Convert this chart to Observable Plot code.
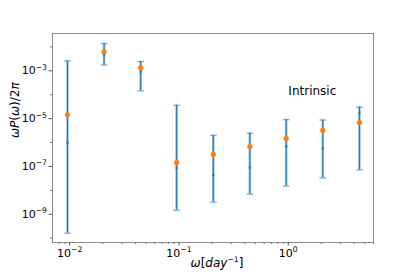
<!DOCTYPE html>
<html>
<head>
<meta charset="utf-8">
<script src="https://cdn.jsdelivr.net/npm/d3@7"></script>
<script src="https://cdn.jsdelivr.net/npm/@observablehq/plot@0.6"></script>
<style>
  html, body { margin: 0; padding: 0; background: #fff; }
  svg { font-family: "DejaVu Sans", sans-serif; }
</style>
</head>
<body>
<div id="chart"></div>
<script>
// frequency (1/day)
const omega = [0.00953, 0.0206, 0.0446, 0.0951, 0.206, 0.445, 0.957, 2.07, 4.48];
// power estimate (orange) and median (blue) with error range
const orangeVal = [1.45e-5, 6.3e-3, 1.35e-3, 1.45e-7, 3.2e-7, 6.8e-7, 1.48e-6, 3.2e-6, 6.9e-6];
const blueVal   = [9.8e-7, 4.8e-3, 9.1e-4, 8.7e-8, 4.4e-8, 8.9e-8, 6.8e-7, 5.6e-7, 1.7e-5];
const errLow    = [1.6e-10, 1.74e-3, 1.45e-4, 1.48e-9, 3.2e-9, 6.9e-9, 1.5e-8, 3.3e-8, 7.2e-8];
const errHigh   = [2.6e-3, 1.38e-2, 2.45e-3, 3.6e-5, 2.0e-6, 2.45e-6, 9.1e-6, 8.7e-6, 3.0e-5];

const xTicks = [0.01, 0.1, 1];
const xTickLabels = ["10⁻²", "10⁻¹", "10⁰"];
const xMinor = [0.008, 0.009, 0.02, 0.03, 0.04, 0.05, 0.06, 0.07, 0.08, 0.09,
                0.2, 0.3, 0.4, 0.5, 0.6, 0.7, 0.8, 0.9, 2, 3, 4, 5, 6];
const yTicks = [1e-9, 1e-7, 1e-5, 1e-3];
const yTickLabels = ["10⁻⁹", "10⁻⁷", "10⁻⁵", "10⁻³"];
const yMinor = [1e-10, 1e-8, 1e-6, 1e-4, 1e-2];

const annotation = [{x: 1.66, y: 1.45e-4, text: "Intrinsic"}];
const xLabel = "ω[day⁻¹]";
const yLabel = "ωP(ω)/2π";

const rows = omega.map((w, i) => ({
  x: w, orange: orangeVal[i], blue: blueVal[i], lo: errLow[i], hi: errHigh[i]
}));

const capSymbol = {
  draw(ctx, size) {
    const r = Math.sqrt(size / Math.PI);
    ctx.moveTo(-r, 0);
    ctx.lineTo(r, 0);
  }
};

const blue = "#1f77b4";
const orange = "#ff7f0e";

const chart = Plot.plot({
  width: 415,
  height: 277,
  marginLeft: 52,
  marginRight: 42,
  marginTop: 33,
  marginBottom: 35,
  style: {fontFamily: "DejaVu Sans, sans-serif", fontSize: "10px", color: "#000", background: "#fff"},
  x: {type: "log", domain: [Math.pow(10, -2.158), Math.pow(10, 0.78)]},
  y: {type: "log", domain: [Math.pow(10, -10.18), Math.pow(10, -1.44)]},
  marks: [
    Plot.frame({stroke: "#8c8c8c", strokeWidth: 1}),
    Plot.axisX(xMinor, {tickSize: 2, tickFormat: () => "", stroke: "#777", label: null}),
    Plot.axisX(xTicks, {tickSize: 3.5, tickPadding: 3, stroke: "#555", fontSize: 11,
      tickFormat: d => xTickLabels[xTicks.indexOf(d)], label: null}),
    Plot.axisY(yMinor, {tickSize: 2, tickFormat: () => "", stroke: "#777", label: null}),
    Plot.axisY(yTicks, {tickSize: 3.5, tickPadding: 2, stroke: "#555", fontSize: 11,
      tickFormat: d => yTickLabels[yTicks.indexOf(d)], label: null}),
    // translucent wide error band
    Plot.ruleX(rows, {x: "x", y1: "lo", y2: "hi", stroke: blue, strokeWidth: 2.6, strokeOpacity: 0.45}),
    // thin solid error line
    Plot.ruleX(rows, {x: "x", y1: "lo", y2: "hi", stroke: blue, strokeWidth: 1}),
    Plot.dot(rows, {x: "x", y: "hi", symbol: capSymbol, r: 3.4, stroke: blue, strokeWidth: 1.5, strokeOpacity: 0.5}),
    Plot.dot(rows, {x: "x", y: "lo", symbol: capSymbol, r: 3.4, stroke: blue, strokeWidth: 1.5, strokeOpacity: 0.5}),
    Plot.dot(rows, {x: "x", y: "blue", r: 1.2, fill: blue, stroke: null}),
    Plot.dot(rows, {x: "x", y: "orange", r: 2.6, fill: orange, stroke: null}),
    Plot.text(annotation, {x: "x", y: "y", text: "text", fontSize: 12, fill: "#000"}),
    Plot.text([xLabel], {frameAnchor: "bottom", dy: 24, dx: 4, text: d => d, fontSize: 12, fill: "#000", className: "mathlabel"}),
    Plot.text([yLabel], {frameAnchor: "left", dx: -37, rotate: -90, text: d => d, fontSize: 12, fill: "#000", className: "mathlabel"})
  ]
});

// Render superscripts (and italic math letters) with tspans, keeping the text as real text.
const supMap = {"⁻": "−", "⁰": "0", "¹": "1", "²": "2", "³": "3", "⁴": "4",
                "⁵": "5", "⁶": "6", "⁷": "7", "⁸": "8", "⁹": "9"};
d3.select(chart).selectAll("text").each(function() {
  const el = this;
  const content = el.textContent;
  const isMath = !!el.closest(".mathlabel");
  if (!/[⁻⁰¹²³⁴⁵⁶⁷⁸⁹]/.test(content) && !isMath) return;
  const runs = [];
  for (const ch of content) {
    let type = "n";
    if (supMap[ch] !== undefined) type = "s";
    else if (isMath && /[A-Za-zα-ωΑ-Ω]/.test(ch)) type = "i";
    const c = type === "s" ? supMap[ch] : ch;
    if (runs.length && runs[runs.length - 1].type === type) runs[runs.length - 1].text += c;
    else runs.push({type, text: c});
  }
  while (el.firstChild) el.removeChild(el.firstChild);
  const fs = parseFloat(getComputedStyle(el).fontSize) || 11;
  const shift = fs * 0.42;
  let raised = false;
  for (const r of runs) {
    const t = document.createElementNS("http://www.w3.org/2000/svg", "tspan");
    t.textContent = r.text;
    if (r.type === "s") {
      t.setAttribute("font-size", (fs * 0.7).toFixed(2));
      if (!raised) { t.setAttribute("dy", (-shift).toFixed(2)); raised = true; }
    } else {
      if (raised) { t.setAttribute("dy", shift.toFixed(2)); raised = false; }
      if (r.type === "i") t.setAttribute("font-style", "italic");
    }
    el.appendChild(t);
  }
});

document.getElementById("chart").appendChild(chart);
</script>
</body>
</html>
